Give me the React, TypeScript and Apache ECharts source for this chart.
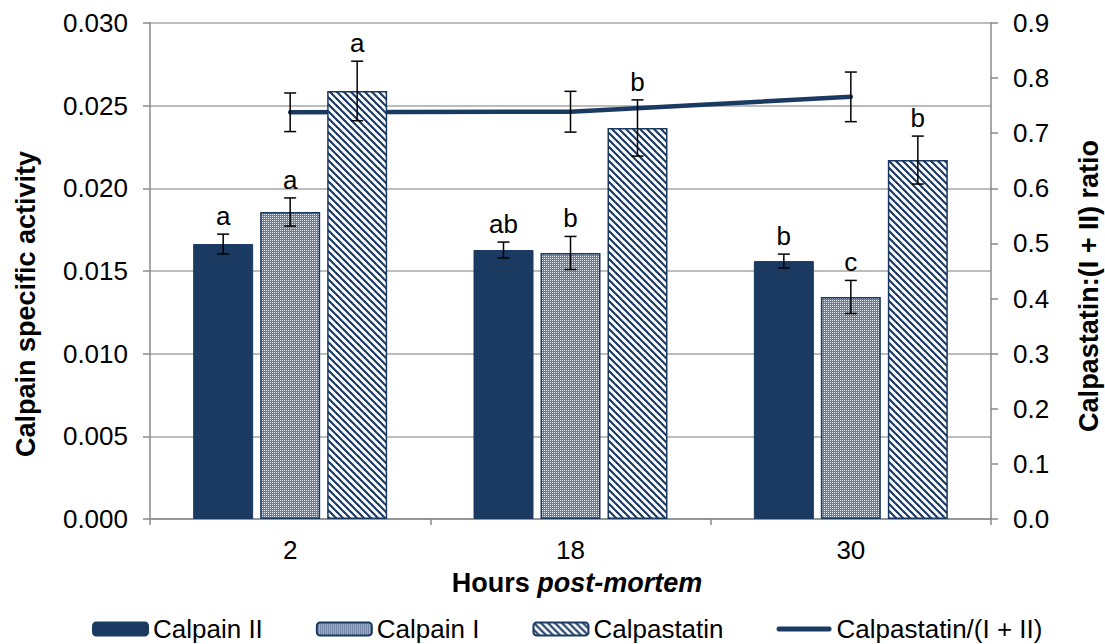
import React, { useEffect, useRef } from "react";
import * as echarts from "echarts";

const hours = ["2", "18", "30"];
const calpainII = [0.01663, 0.01627, 0.0156];
const calpainIIErr = [0.0006, 0.00048, 0.00042];
const calpainIILetters = ["a", "ab", "b"];
const calpainI = [0.01857, 0.01609, 0.01343];
const calpainIErr = [0.00085, 0.001, 0.001];
const calpainILetters = ["a", "b", "c"];
const calpastatin = [0.02589, 0.02365, 0.02171];
const calpastatinErr = [0.0018, 0.0017, 0.00145];
const calpastatinLetters = ["a", "b", "b"];
const ratio = [0.738, 0.739, 0.766];
const ratioErr = [0.035, 0.037, 0.045];
const leftTicks = { min: 0, max: 0.03, interval: 0.005 };
const rightTicks = { min: 0, max: 0.9, interval: 0.1 };

const NAVY = "#1b3a62";
const FONT = "'Liberation Sans', Arial, sans-serif";
const BAR_W = 60;
const BAR_GAP = 7;

function dotPattern() {
  const c = document.createElement("canvas");
  c.width = 2;
  c.height = 2;
  const g = c.getContext("2d")!;
  g.fillStyle = "#6a7f9f";
  g.fillRect(0, 0, 2, 2);
  g.fillStyle = "#e3e9f2";
  g.fillRect(0, 0, 1, 1);
  return { image: c, repeat: "repeat", imageWidth: 2, imageHeight: 2 } as any;
}

function stripePattern() {
  const s = 7;
  const c = document.createElement("canvas");
  c.width = s;
  c.height = s;
  const g = c.getContext("2d")!;
  g.fillStyle = "#ffffff";
  g.fillRect(0, 0, s, s);
  g.strokeStyle = NAVY;
  g.lineWidth = 2.2;
  for (const x0 of [-s, 0, s]) {
    g.beginPath();
    g.moveTo(x0 - 1, -1);
    g.lineTo(x0 + s + 1, s + 1);
    g.stroke();
  }
  return { image: c, repeat: "repeat", imageWidth: s, imageHeight: s } as any;
}

function errSeries(
  vals: number[],
  errs: number[],
  letters: string[] | null,
  offset: number,
  yAxisIndex: number
) {
  return {
    type: "custom",
    yAxisIndex,
    z: 6,
    silent: true,
    encode: { x: 0, y: 1 },
    data: vals.map((v, i) => [i, v, errs[i]]),
    renderItem: (params: any, api: any) => {
      const i = api.value(0);
      const v = api.value(1);
      const e = api.value(2);
      const top = api.coord([i, v + e]);
      const bot = api.coord([i, v - e]);
      const x = top[0] + offset;
      const cap = 6;
      const style = { stroke: "#000", lineWidth: 1.5 };
      const children: any[] = [
        { type: "line", shape: { x1: x, y1: top[1], x2: x, y2: bot[1] }, style },
        { type: "line", shape: { x1: x - cap, y1: top[1], x2: x + cap, y2: top[1] }, style },
        { type: "line", shape: { x1: x - cap, y1: bot[1], x2: x + cap, y2: bot[1] }, style },
      ];
      if (letters) {
        children.push({
          type: "text",
          style: {
            text: letters[params.dataIndex],
            x,
            y: top[1] - 5,
            align: "center",
            verticalAlign: "bottom",
            fontSize: 26,
            fontFamily: FONT,
            fill: "#000",
          },
        });
      }
      return { type: "group", children };
    },
  };
}

export default function App() {
  const ref = useRef<HTMLDivElement>(null);
  useEffect(() => {
    if (!ref.current) return;
    const chart = echarts.init(ref.current, null, { renderer: "svg" });
    const axisGray = "#8a8a8a";
    const option: any = {
      animation: false,
      backgroundColor: "#ffffff",
      textStyle: { fontFamily: FONT },
      grid: { left: 150, right: 114, top: 23, bottom: 125, containLabel: false },
      legend: {
        data: [
          "Calpain II",
          "Calpain I",
          "Calpastatin",
          {
            name: "Calpastatin/(I + II)",
            icon: "path://M2.5,0 h50 a2.5,2.5 0 0 1 0,5 h-50 a2.5,2.5 0 0 1 0,-5 z",
          },
        ],
        left: 92,
        top: 616,
        padding: 0,
        itemWidth: 55,
        itemHeight: 13,
        itemGap: 53,
        symbolKeepAspect: true,
        textStyle: { fontSize: 26, color: "#000", fontFamily: FONT },
      },
      xAxis: {
        type: "category",
        data: hours,
        axisLine: { lineStyle: { color: axisGray, width: 1.5 } },
        axisTick: { show: true, alignWithLabel: false, length: 6, lineStyle: { color: axisGray, width: 1.5 } },
        axisLabel: { fontSize: 26, color: "#000", margin: 18, fontFamily: FONT },
      },
      yAxis: [
        {
          type: "value",
          ...leftTicks,
          axisLine: { show: true, lineStyle: { color: axisGray, width: 1.5 } },
          axisTick: { show: true, length: 7, lineStyle: { color: axisGray, width: 1.5 } },
          axisLabel: {
            fontSize: 26,
            color: "#000",
            margin: 22,
            fontFamily: FONT,
            formatter: (v: number) => v.toFixed(3),
          },
          splitLine: { show: true, lineStyle: { color: "#a6a6a6", width: 1.5 } },
        },
        {
          type: "value",
          position: "right",
          ...rightTicks,
          axisLine: { show: true, lineStyle: { color: axisGray, width: 1.5 } },
          axisTick: { show: true, length: 7, lineStyle: { color: axisGray, width: 1.5 } },
          axisLabel: {
            fontSize: 26,
            color: "#000",
            margin: 22,
            fontFamily: FONT,
            formatter: (v: number) => v.toFixed(1),
          },
          splitLine: { show: false },
        },
      ],
      series: [
        {
          name: "Calpain II",
          type: "bar",
          data: calpainII,
          barWidth: BAR_W,
          barGap: (BAR_GAP / BAR_W) * 100 + "%",
          z: 3,
          itemStyle: { color: NAVY, borderColor: NAVY, borderWidth: 1 },
        },
        {
          name: "Calpain I",
          type: "bar",
          data: calpainI,
          barWidth: BAR_W,
          z: 3,
          itemStyle: { color: dotPattern(), borderColor: NAVY, borderWidth: 1.5 },
        },
        {
          name: "Calpastatin",
          type: "bar",
          data: calpastatin,
          barWidth: BAR_W,
          z: 3,
          itemStyle: { color: stripePattern(), borderColor: NAVY, borderWidth: 1.5 },
        },
        {
          name: "Calpastatin/(I + II)",
          type: "line",
          yAxisIndex: 1,
          data: ratio,
          z: 1,
          symbol: "none",
          showSymbol: false,
          lineStyle: { color: NAVY, width: 4.5, cap: "round" },
          itemStyle: { color: NAVY },
        },
        errSeries(calpainII, calpainIIErr, calpainIILetters, -(BAR_W + BAR_GAP), 0),
        errSeries(calpainI, calpainIErr, calpainILetters, 0, 0),
        errSeries(calpastatin, calpastatinErr, calpastatinLetters, BAR_W + BAR_GAP, 0),
        errSeries(ratio, ratioErr, null, 0, 1),
      ],
      graphic: [
        {
          type: "text",
          x: 577,
          y: 583,
          style: {
            text: "{b|Hours }{bi|post-mortem}",
            align: "center",
            verticalAlign: "middle",
            rich: {
              b: { fontSize: 27, fontWeight: "bold", fontFamily: FONT, fill: "#000" },
              bi: { fontSize: 27, fontWeight: "bold", fontStyle: "italic", fontFamily: FONT, fill: "#000" },
            },
          },
        },
        {
          type: "text",
          x: 26,
          y: 304,
          rotation: Math.PI / 2,
          style: {
            text: "Calpain specific activity",
            align: "center",
            verticalAlign: "middle",
            fontSize: 27,
            fontWeight: "bold",
            fontFamily: FONT,
            fill: "#000",
          },
        },
        {
          type: "text",
          x: 1089,
          y: 286,
          rotation: Math.PI / 2,
          style: {
            text: "Calpastatin:(I + II) ratio",
            align: "center",
            verticalAlign: "middle",
            fontSize: 27,
            fontWeight: "bold",
            fontFamily: FONT,
            fill: "#000",
          },
        },
      ],
    };
    chart.setOption(option);
    return () => chart.dispose();
  }, []);
  return (
    <div
      ref={ref}
      style={{ position: "fixed", left: 0, top: 0, width: 1105, height: 644, background: "#fff" }}
    />
  );
}
